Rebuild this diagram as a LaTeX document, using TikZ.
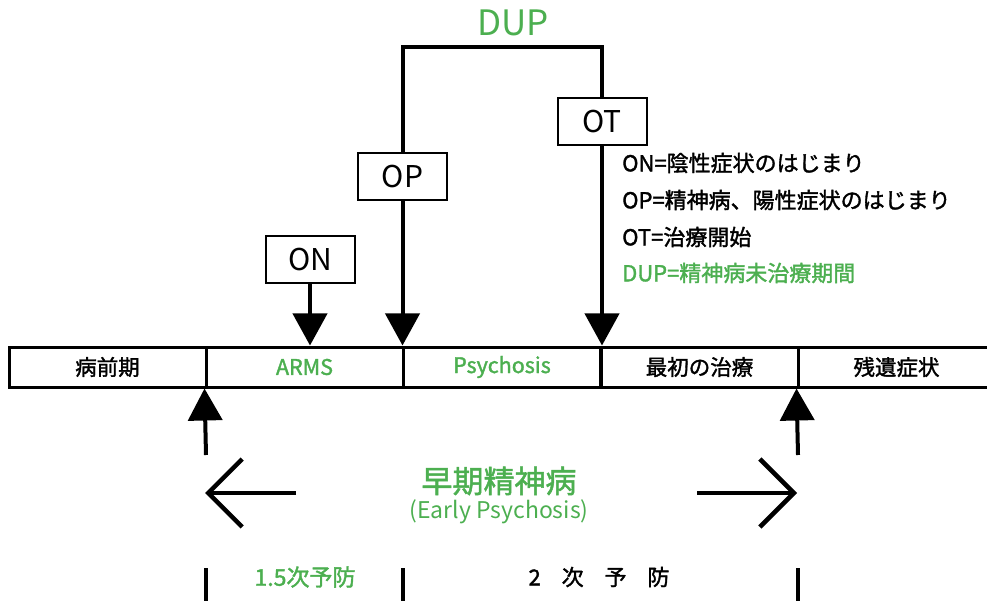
\documentclass[tikz,border=0pt]{standalone}
\usepackage{fontspec}
\setmainfont{Noto Sans CJK JP}
\newfontfamily\medfont{Noto Sans CJK JP}[FakeBold=1.6]
\usetikzlibrary{arrows.meta}
\definecolor{dupgreen}{RGB}{76,175,80}
\begin{document}
\begin{tikzpicture}[x=1pt,y=-1pt,
  seg/.style={draw, line width=3pt, minimum height=40pt, minimum width=197pt,
    inner sep=0pt, font=\medfont\fontsize{21.5}{24}\selectfont},
  tag/.style={draw, line width=2pt, fill=white, minimum width=89pt,
    minimum height=47pt, inner sep=0pt, font=\fontsize{30}{32}\selectfont},
  stem/.style={line width=4pt},
  headdown/.style={-{Triangle[width=34pt,length=32pt]}},
  chevron/.style={line width=4.5pt, -{Straight Barb[length=34pt,width=68pt]}},
  legend/.style={anchor=west, inner sep=0pt, font=\medfont\fontsize{22}{24}\selectfont},
  green/.style={text=dupgreen}]
\useasboundingbox (0,0) rectangle (987,601);

% timeline bar
\node[seg] (s1) at (107.5,367) {病前期};
\node[seg, green] (s2) at (304.5,367) {ARMS};
\node[seg, green] (s3) at (502,367) {Psychosis};
\node[seg] (s4) at (699.5,367) {最初の治療};
\node[seg] (s5) at (896.5,367) {残遺症状};

% onset markers
\node[tag] (on) at (310,259.5) {ON};
\node[tag] (op) at (402.5,176.5) {OP};
\node[tag] (ot) at (602,121.5) {OT};

\draw[stem, headdown] (on.south) -- (on.south |- s2.north);
\draw[stem, headdown] (op.south) -- (op.south |- s3.north);
\draw[stem, headdown] (ot.south) -- (ot.south |- s4.north);

% DUP bracket
\coordinate (duptop) at (0,47);
\draw[stem, line join=miter] (op.north) -- (op.north |- duptop) -- (ot.north |- duptop) -- (ot.north);
\node[green, font=\fontsize{35}{38}\selectfont] (dup) at (513,23) {DUP};

% legend
\node[legend] (l1) at (622,163) {ON=陰性症状のはじまり};
\node[legend] (l2) at (622,200) {OP=精神病、陽性症状のはじまり};
\node[legend] (l3) at (622,237) {OT=治療開始};
\node[legend, green] (l4) at (622,273) {DUP=精神病未治療期間};

% early psychosis span
\coordinate (ua) at (206,455);
\coordinate (ub) at (798,455);
\draw[stem, headdown] (ua) -- (s2.south west);
\draw[stem, headdown] (ub) -- (s5.south west);

\coordinate (la0) at (296,493);
\coordinate (la1) at (205,493);
\coordinate (ra0) at (697,493);
\coordinate (ra1) at (797,493);
\draw[chevron] (la0) -- (la1);
\draw[chevron] (ra0) -- (ra1);

\node[green, font=\medfont\fontsize{31}{33}\selectfont] (ep) at (499,481) {早期精神病};
\node[green, font=\fontsize{23}{26}\selectfont] (epen) at (499,512) {(Early Psychosis)};

% prevention stages
\coordinate (d1a) at (206,568); \coordinate (d1b) at (206,601);
\coordinate (d2a) at (403,568); \coordinate (d2b) at (403,601);
\coordinate (d3a) at (798,568); \coordinate (d3b) at (798,601);
\draw[stem] (d1a) -- (d1b);
\draw[stem] (d2a) -- (d2b);
\draw[stem] (d3a) -- (d3b);

\node[green, font=\medfont\fontsize{23}{26}\selectfont] (p15) at (305,577) {1.5次予防};
\node[font=\medfont\fontsize{22}{26}\selectfont] (p2) at (599,577) {2\hspace{0.95em}次\hspace{0.95em}予\hspace{0.95em}防};
\end{tikzpicture}
\end{document}
